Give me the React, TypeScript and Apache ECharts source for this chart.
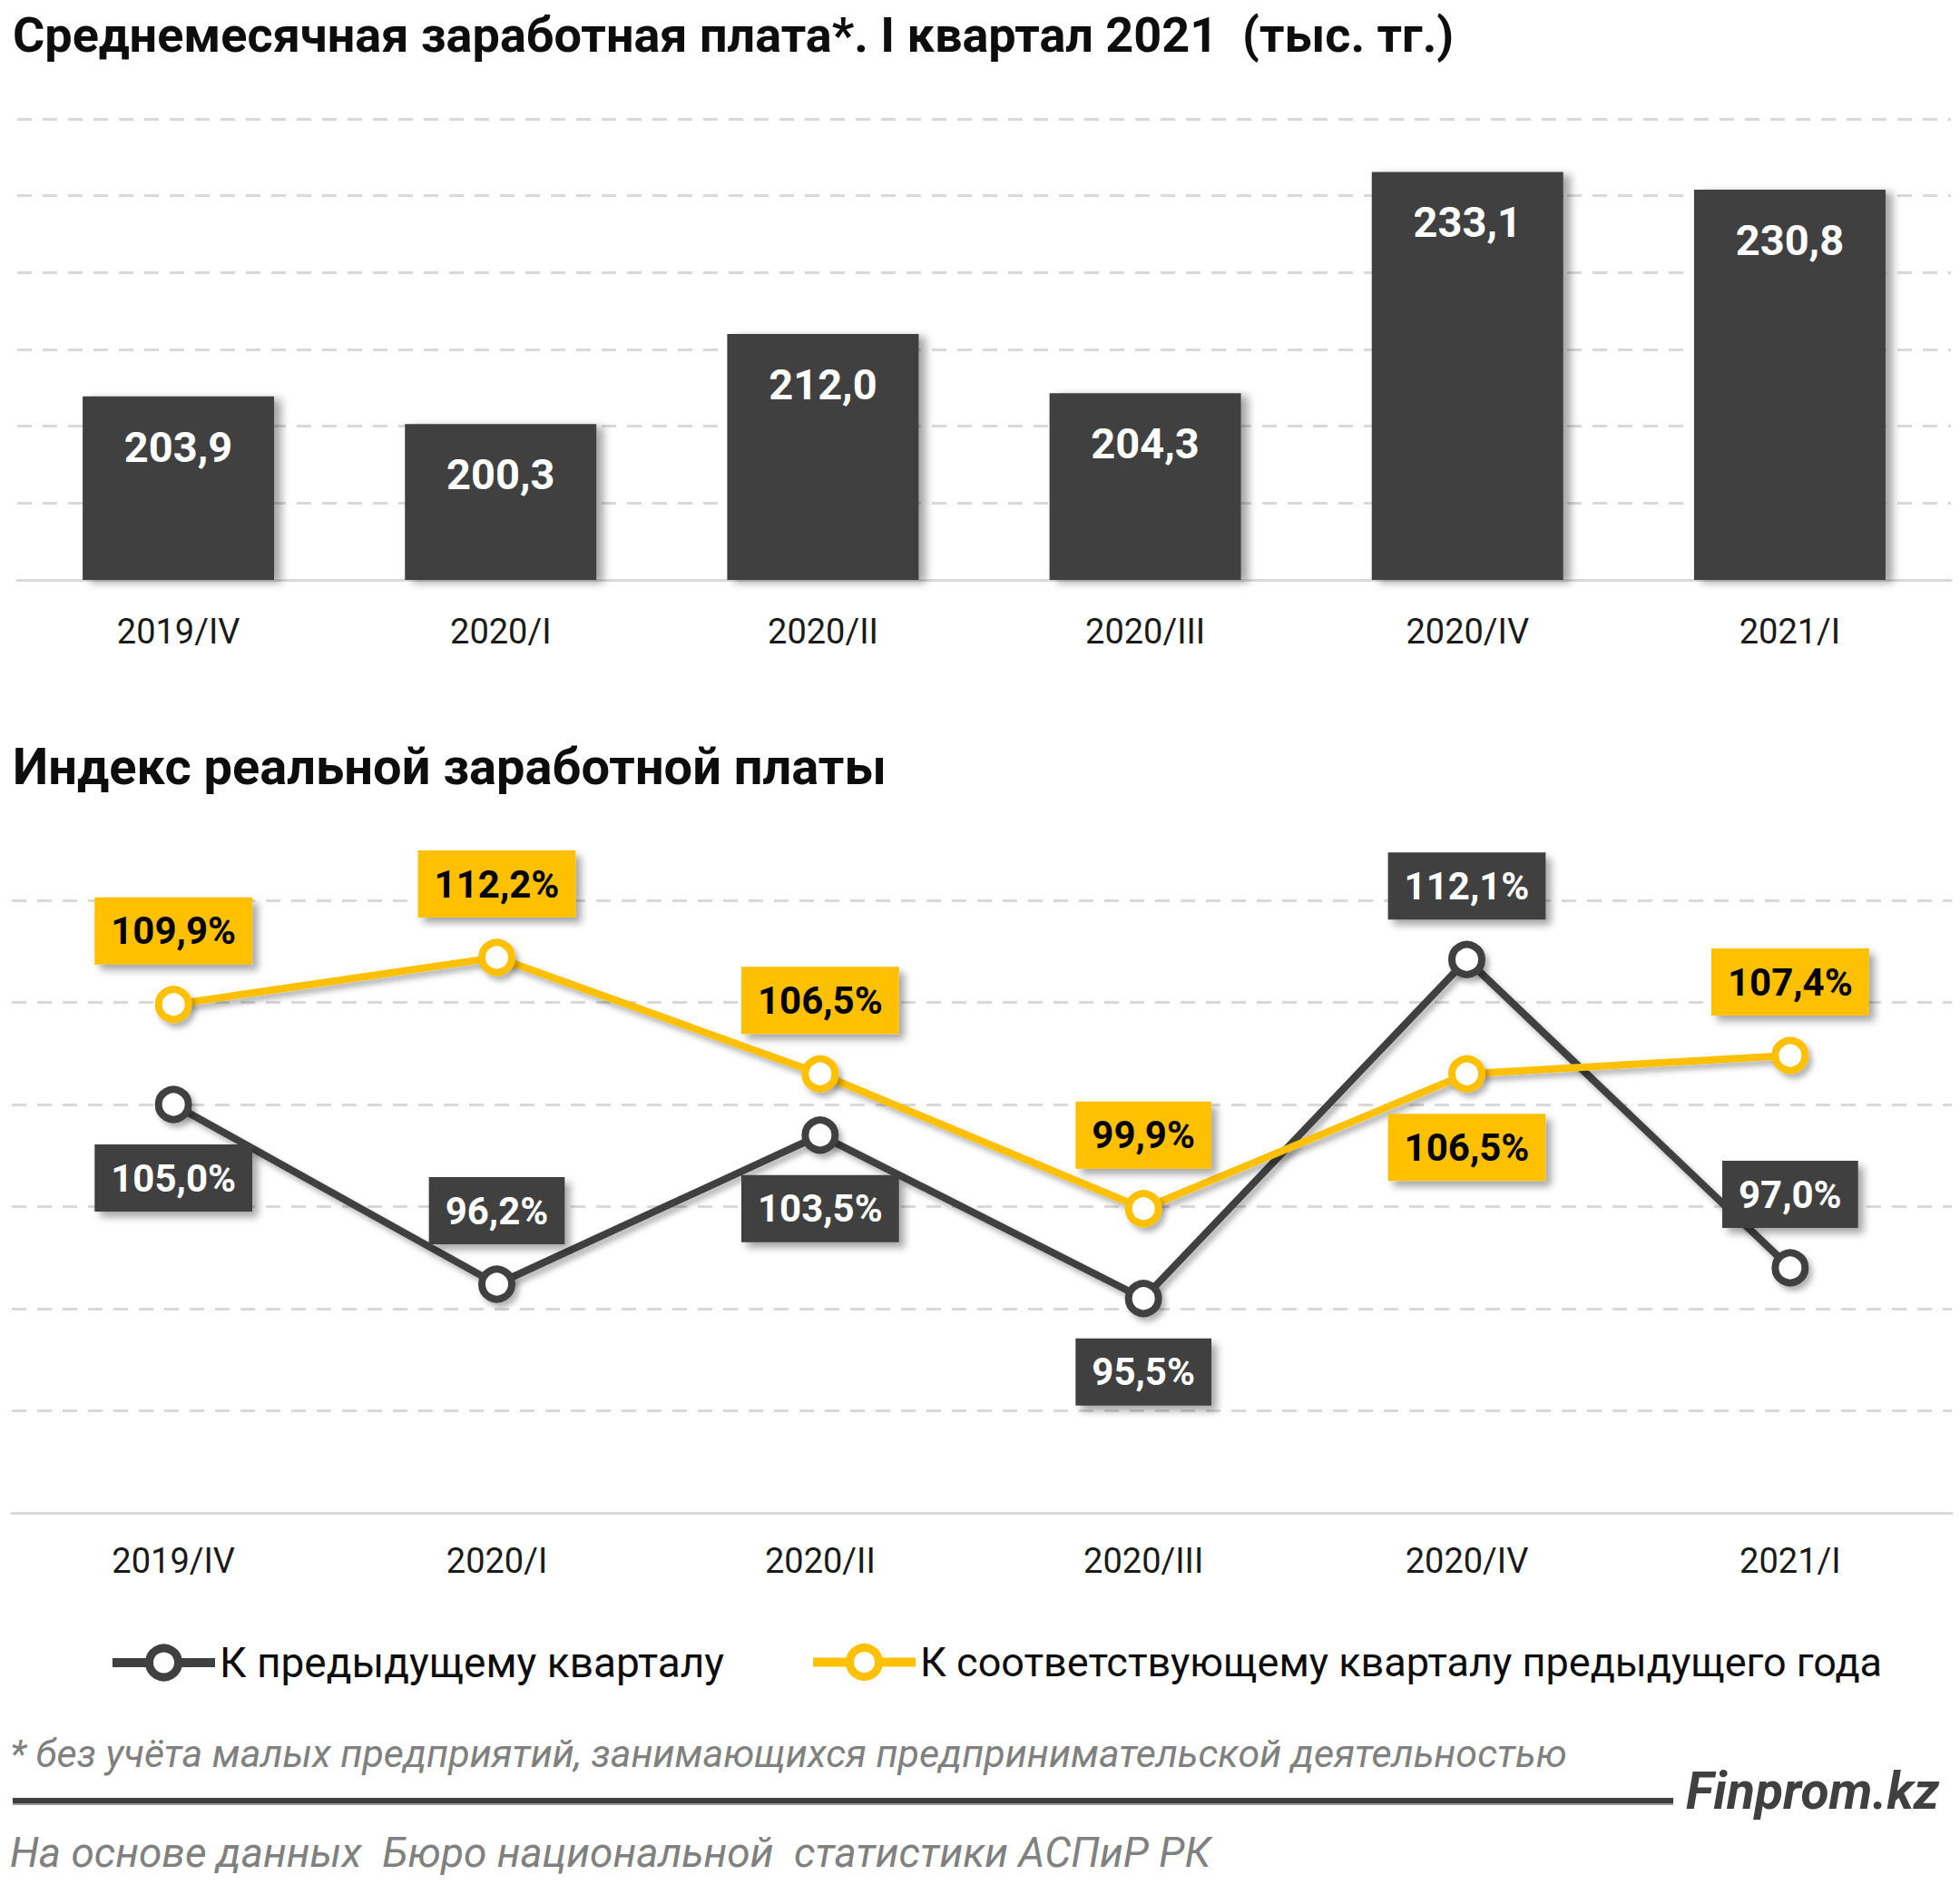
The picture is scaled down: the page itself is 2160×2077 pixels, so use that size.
import React, { useEffect, useRef } from "react";
import * as echarts from "echarts";

const categories = ["2019/IV", "2020/I", "2020/II", "2020/III", "2020/IV", "2021/I"];
const wages = [203.9, 200.3, 212.0, 204.3, 233.1, 230.8];
const qoq = [105.0, 96.2, 103.5, 95.5, 112.1, 97.0];
const yoy = [109.9, 112.2, 106.5, 99.9, 106.5, 107.4];

// label side: -1 above the point, 1 below
const qoqSide = [1, -1, 1, 1, -1, -1];
const yoySide = [-1, -1, -1, -1, 1, -1];

const QOQ_NAME = "К предыдущему кварталу";
const YOY_NAME = "К соответствующему кварталу предыдущего года";

const DARK = "#404040";
const GOLD = "#FFC000";
const FONT = "Roboto, 'Noto Sans', sans-serif";

const fmt = (v: number) => v.toFixed(1).replace(".", ",");

export default function App() {
  const ref = useRef<HTMLDivElement>(null);
  useEffect(() => {
    document.body.style.margin = "0";
    if (!ref.current) return;
    const chart = echarts.init(ref.current, undefined, { renderer: "svg" });
    const labelShadow = {
      shadowBlur: 8,
      shadowOffsetX: 6,
      shadowOffsetY: 6,
      shadowColor: "rgba(0,0,0,0.35)",
    };
    const gridLine = { lineStyle: { type: [16, 12], color: "#d9d9d9", width: 3 } };
    const lineSeries = (name: string, data: number[], side: number[], color: string, textColor: string) => ({
      name,
      type: "line",
      xAxisIndex: 1,
      yAxisIndex: 1,
      symbol: "circle",
      symbolSize: 33,
      color,
      lineStyle: {
        color,
        width: 8,
        shadowBlur: 6,
        shadowOffsetX: 4,
        shadowOffsetY: 5,
        shadowColor: "rgba(0,0,0,0.3)",
      },
      itemStyle: {
        color: "#fff",
        borderColor: color,
        borderWidth: 8,
        shadowBlur: 6,
        shadowOffsetX: 4,
        shadowOffsetY: 5,
        shadowColor: "rgba(0,0,0,0.3)",
      },
      data: data.map((v, i) => ({ value: v, label: { offset: [0, side[i] * 81] } })),
      label: {
        show: true,
        position: "inside",
        formatter: (p: any) => fmt(p.value) + "%",
        backgroundColor: color,
        color: textColor,
        fontFamily: FONT,
        fontSize: 42,
        fontWeight: "bold",
        lineHeight: 42,
        padding: [16, 18],
        ...labelShadow,
      },
    });
    const legendBase = {
      top: 1809,
      padding: 0,
      itemWidth: 113,
      itemHeight: 40,
      lineStyle: { width: 10 },
      itemStyle: { borderWidth: 9 },
      textStyle: { fontFamily: FONT, fontSize: 46, color: "#0d0d0d" },
    };
    const option: any = {
      animation: false,
      backgroundColor: "#fff",
      textStyle: { fontFamily: FONT },
      title: [
        {
          text: "Среднемесячная заработная плата*. I квартал 2021  (тыс. тг.)",
          left: 14,
          top: 6,
          padding: 0,
          textStyle: { fontFamily: FONT, fontSize: 54, fontWeight: "bold", color: "#0d0d0d", lineHeight: 64 },
        },
        {
          text: "Индекс реальной заработной платы",
          left: 14,
          top: 813,
          padding: 0,
          textStyle: { fontFamily: FONT, fontSize: 56, fontWeight: "bold", color: "#0d0d0d", lineHeight: 64 },
        },
        {
          text: "* без учёта малых предприятий, занимающихся предпринимательской деятельностью",
          left: 11,
          top: 1906,
          padding: 0,
          textStyle: { fontFamily: FONT, fontSize: 43, fontStyle: "italic", fontWeight: "normal", color: "#808080", lineHeight: 52 },
        },
        {
          text: "Finprom.kz",
          left: 1858,
          top: 1940,
          padding: 0,
          textStyle: { fontFamily: FONT, fontSize: 57, fontStyle: "italic", fontWeight: "bold", color: "#404040", lineHeight: 66 },
        },
        {
          text: "На основе данных  Бюро национальной  статистики АСПиР РК",
          left: 11,
          top: 2015,
          padding: 0,
          textStyle: { fontFamily: FONT, fontSize: 46, fontStyle: "italic", fontWeight: "normal", color: "#808080", lineHeight: 52 },
        },
      ],
      graphic: [
        {
          type: "rect",
          shape: { x: 14, y: 1981, width: 1830, height: 6 },
          style: { fill: "#3f3f3f" },
        },
        {
          type: "rect",
          shape: { x: 14, y: 1987, width: 1830, height: 2 },
          style: { fill: "#9a9a9a" },
        },
      ],
      grid: [
        { left: 19, right: 10, top: 131, height: 508 },
        { left: 13, right: 9, top: 992, height: 675 },
      ],
      xAxis: [
        {
          type: "category",
          gridIndex: 0,
          data: categories,
          axisLine: { lineStyle: { color: "#d9d9d9", width: 3 } },
          axisTick: { show: false },
          axisLabel: { fontFamily: FONT, fontSize: 38, color: "#1a1a1a", margin: 38 },
        },
        {
          type: "category",
          gridIndex: 1,
          data: categories,
          axisLine: { lineStyle: { color: "#d9d9d9", width: 3 } },
          axisTick: { show: false },
          axisLabel: { fontFamily: FONT, fontSize: 38, color: "#1a1a1a", margin: 34 },
        },
      ],
      yAxis: [
        {
          type: "value",
          gridIndex: 0,
          min: 180,
          max: 240,
          interval: 10,
          axisLabel: { show: false },
          axisLine: { show: false },
          axisTick: { show: false },
          splitLine: gridLine,
        },
        {
          type: "value",
          gridIndex: 1,
          min: 85,
          max: 115,
          interval: 5,
          axisLabel: { show: false },
          axisLine: { show: false },
          axisTick: { show: false },
          splitLine: gridLine,
        },
      ],
      legend: [
        { ...legendBase, data: [QOQ_NAME], left: 119 },
        { ...legendBase, data: [YOY_NAME], left: 891, textStyle: { ...legendBase.textStyle, fontSize: 45 } },
      ],
      series: [
        {
          name: "Среднемесячная заработная плата",
          type: "bar",
          xAxisIndex: 0,
          yAxisIndex: 0,
          data: wages,
          barWidth: 211,
          itemStyle: {
            color: DARK,
            shadowBlur: 10,
            shadowOffsetX: 8,
            shadowOffsetY: 3,
            shadowColor: "rgba(0,0,0,0.35)",
          },
          label: {
            show: true,
            position: "insideTop",
            distance: 32,
            formatter: (p: any) => fmt(p.value),
            color: "#fff",
            fontFamily: FONT,
            fontSize: 47,
            fontWeight: "bold",
            lineHeight: 47,
          },
        },
        lineSeries(QOQ_NAME, qoq, qoqSide, DARK, "#fff"),
        lineSeries(YOY_NAME, yoy, yoySide, GOLD, "#000"),
      ],
    };
    chart.setOption(option);
    return () => chart.dispose();
  }, []);
  return <div ref={ref} style={{ width: 2160, height: 2077 }} />;
}
